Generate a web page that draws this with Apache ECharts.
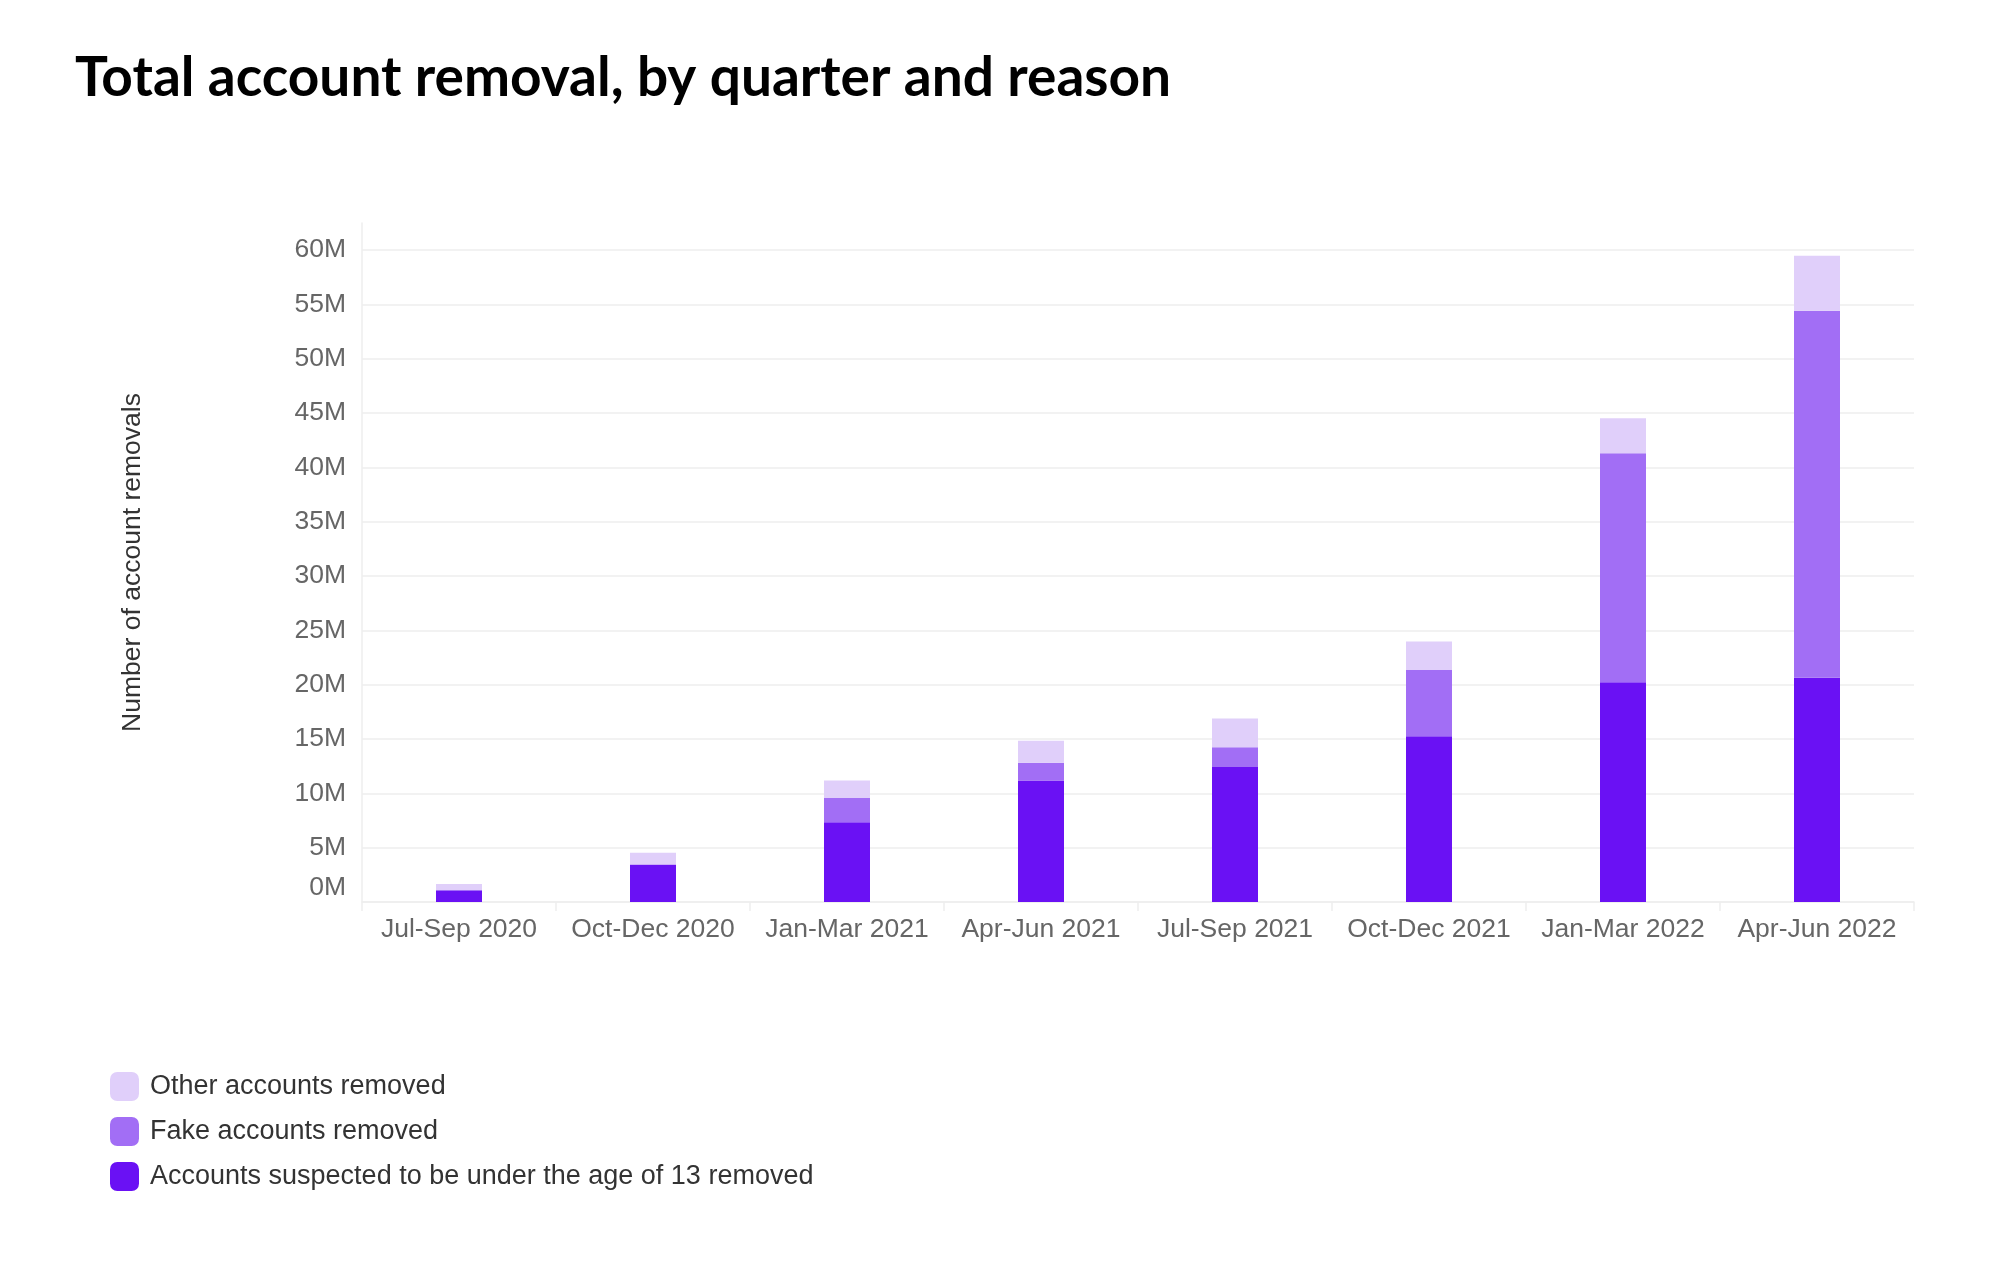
<!DOCTYPE html>
<html>
<head>
<meta charset="utf-8">
<script src="https://cdn.jsdelivr.net/npm/echarts@6/dist/echarts.min.js"></script>
<style>
html,body{margin:0;padding:0;background:#fff;}
#chart{width:2000px;height:1271px;}
</style>
</head>
<body>
<div id="chart"></div>
<script>
// Data (millions)
const categories = ['Jul-Sep 2020','Oct-Dec 2020','Jan-Mar 2021','Apr-Jun 2021','Jul-Sep 2021','Oct-Dec 2021','Jan-Mar 2022','Apr-Jun 2022'];
const under13 = [1.07, 3.46, 7.34, 11.19, 12.42, 15.26, 20.23, 20.64];
const fake    = [0, 0, 2.23, 1.62, 1.83, 6.09, 21.07, 33.76];
const other   = [0.58, 1.07, 1.62, 2.02, 2.63, 2.63, 3.21, 5.07];
const seriesNames = ['Accounts suspected to be under the age of 13 removed','Fake accounts removed','Other accounts removed'];
const legendOrder = ['Other accounts removed','Fake accounts removed','Accounts suspected to be under the age of 13 removed'];
const yTicks = {min: 0, max: 60, interval: 5};

const colors = ['#6a11f4', '#a26ef5', '#e0cffa'];
const labelFont = '"Liberation Sans", Arial, Helvetica, sans-serif';

const chart = echarts.init(document.getElementById('chart'), null, {renderer: 'canvas'});
const option = {
  backgroundColor: '#ffffff',
  animation: false,
  title: {
    text: 'Total account removal, by quarter and reason',
    left: 70, top: 46,
    textStyle: {fontFamily: 'Lato, sans-serif', fontWeight: 'bold', fontSize: 55, color: '#000'}
  },
  legend: {
    orient: 'vertical', left: 105, top: 1067,
    itemWidth: 29, itemHeight: 29, itemGap: 16,
    icon: 'roundRect',
    data: legendOrder,
    textStyle: {fontFamily: labelFont, fontSize: 27, color: '#333', padding: [0,0,0,6]}
  },
  grid: [
    {left: 362, right: 86, top: 250, bottom: 369, containLabel: false},
    {left: 362, right: 86, top: 223, bottom: 369, containLabel: false}
  ],
  xAxis: [
    {
      type: 'category', data: categories, gridIndex: 0,
      axisLine: {show: true, lineStyle: {color: '#eeeeee', width: 1.5}},
      axisTick: {show: true, interval: 0, length: 9, lineStyle: {color: '#eeeeee', width: 1.5}},
      axisLabel: {fontFamily: labelFont, fontSize: 26.5, color: '#666', margin: 14, interval: 0}
    },
    {
      type: 'category', data: categories, gridIndex: 1, show: false
    }
  ],
  yAxis: [
    {
      type: 'value', gridIndex: 0,
      min: yTicks.min, max: yTicks.max, interval: yTicks.interval,
      axisLine: {show: false}, axisTick: {show: false},
      splitLine: {show: true, lineStyle: {color: '#eeeeee', width: 1.5}},
      axisLabel: {
        fontFamily: labelFont, fontSize: 26.5, color: '#666', margin: 16,
        formatter: function (v) { return v === 0 ? '{z|0M}' : v + 'M'; },
        rich: {z: {fontFamily: labelFont, fontSize: 26.5, color: '#666', padding: [0,0,28,0]}}
      }
    },
    {
      type: 'value', gridIndex: 1, min: 0, max: 1,
      axisLine: {show: true, lineStyle: {color: '#eeeeee', width: 1.5}},
      axisTick: {show: false}, axisLabel: {show: false}, splitLine: {show: false},
      name: 'Number of account removals', nameLocation: 'middle', nameGap: 216,
      nameTextStyle: {fontFamily: labelFont, fontSize: 26.5, color: '#333'}
    }
  ],
  series: [
    {name: seriesNames[0], type: 'bar', stack: 'total', data: under13, barWidth: 46, itemStyle: {color: colors[0]}},
    {name: seriesNames[1], type: 'bar', stack: 'total', data: fake, barWidth: 46, itemStyle: {color: colors[1]}},
    {name: seriesNames[2], type: 'bar', stack: 'total', data: other, barWidth: 46, itemStyle: {color: colors[2]}}
  ]
};
chart.setOption(option);
</script>
</body>
</html>
